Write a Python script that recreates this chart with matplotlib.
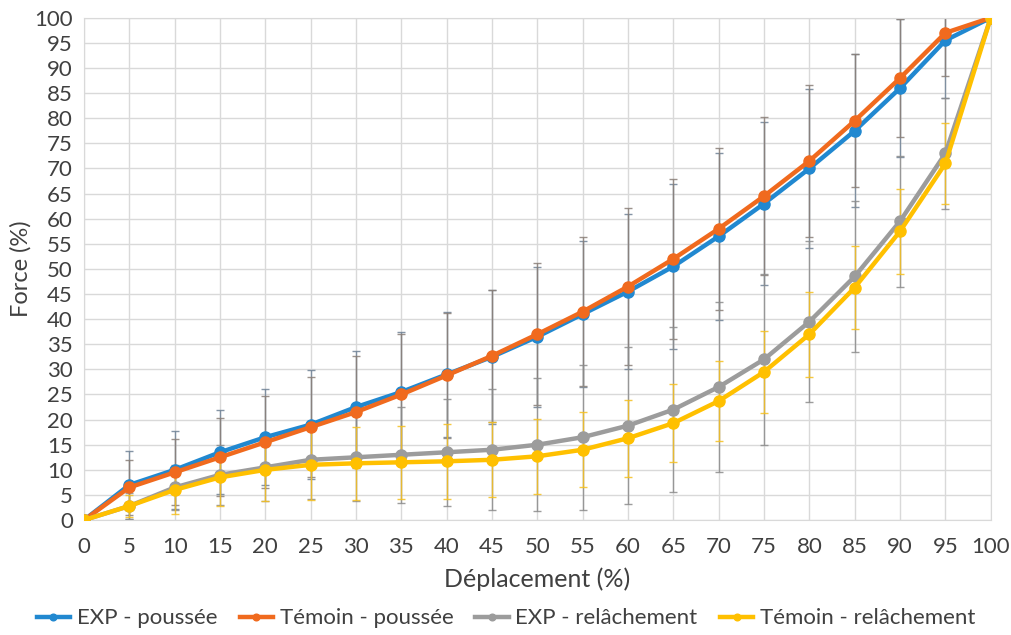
import matplotlib
matplotlib.use("Agg")
import matplotlib.pyplot as plt
import numpy as np

plt.rcParams['font.family'] = ['Lato', 'DejaVu Sans']

x = list(range(0, 101, 5))
exp_pousse = [0, 7, 10, 13.5, 16.5, 19, 22.5, 25.5, 29, 32.5, 36.5, 41, 45.5, 50.5, 56.5, 63, 70, 77.5, 86, 95.5, 100]
temoin_pousse = [0, 6.5, 9.5, 12.5, 15.5, 18.5, 21.5, 25, 28.8, 32.7, 37, 41.5, 46.5, 52, 58, 64.5, 71.5, 79.5, 88, 97, 100]
exp_relache = [0, 2.8, 6.5, 9, 10.5, 12, 12.5, 13, 13.5, 14, 15, 16.5, 18.8, 22, 26.5, 32, 39.5, 48.5, 59.5, 73, 100]
temoin_relache = [0, 2.8, 6, 8.5, 10, 11, 11.3, 11.5, 11.7, 12, 12.7, 14, 16.3, 19.3, 23.7, 29.5, 37, 46.3, 57.5, 71, 100]

err_exp_pousse = [0, 6.7, 7.8, 8.4, 9.5, 10.9, 11.1, 11.9, 12.5, 13.3, 13.9, 14.6, 15.5, 16.4, 16.6, 16.3, 15.9, 15.2, 13.8, 11.5, 0]
err_temoin_pousse = [0, 5.5, 6.6, 7.8, 9.2, 10, 11.1, 12, 12.5, 13.2, 14.1, 14.8, 15.6, 16, 16.1, 15.8, 15.1, 13.2, 11.8, 8.6, 0]
err_exp_relache = [0, 2.5, 4.5, 6, 6.7, 7.8, 8.7, 9.6, 10.7, 12, 13.2, 14.4, 15.6, 16.4, 17, 17, 16, 15, 13, 11, 0]
err_temoin_relache = [0, 2.1, 4.8, 5.7, 6.2, 7, 7.3, 7.3, 7.5, 7.5, 7.5, 7.5, 7.7, 7.8, 8, 8.2, 8.5, 8.3, 8.5, 8, 0]

labels = ["EXP - poussée", "Témoin - poussée", "EXP - relâchement", "Témoin - relâchement"]
colors = ["#2188D0", "#F06A1E", "#9C9C9C", "#FFC000"]
ecolors = ["#6f8296", "#8a7f78", "#8c8c8c", "#F5C020"]

fig = plt.figure(figsize=(10.12, 6.35), dpi=100)
ax = fig.add_axes([0.083, 0.181, 0.896, 0.791])

series = [exp_pousse, temoin_pousse, exp_relache, temoin_relache]
errs = [err_exp_pousse, err_temoin_pousse, err_exp_relache, err_temoin_relache]

for y, e, c, ec in zip(series, errs, colors, ecolors):
    ax.errorbar(x, y, yerr=e, fmt='none', ecolor=ec, elinewidth=1.0, capsize=3, capthick=1.0, alpha=0.85, zorder=2)
handles = []
for y, c, lab in zip(series, colors, labels):
    h, = ax.plot(x, y, color=c, lw=3.2, marker='o', ms=8, label=lab, zorder=3)
    handles.append(h)

ax.set_xlim(0, 100)
ax.set_ylim(0, 100)
ax.set_xticks(range(0, 101, 5))
ax.set_yticks(range(0, 101, 5))
ax.grid(True, color='#d9d9d9', lw=1.0)
ax.set_axisbelow(True)
for s in ax.spines.values():
    s.set_color('#d9d9d9')
ax.tick_params(length=0, labelsize=16, colors='#404040')
ax.tick_params(axis='x', pad=12)
ax.tick_params(axis='y', pad=8)
ax.set_xlabel("Déplacement (%)", fontsize=18, color='#404040', labelpad=8)
ax.set_ylabel("Force (%)", fontsize=17, color='#404040', labelpad=2)
for lbl in ax.get_xticklabels() + ax.get_yticklabels():
    lbl.set_clip_on(False)

leg = fig.legend(handles=handles, labels=labels, loc='center', bbox_to_anchor=(0.5, 0.026),
                 ncol=4, frameon=False, fontsize=16, handlelength=1.5, handletextpad=0.3,
                 columnspacing=1.0, markerscale=0.6)
for t in leg.get_texts():
    t.set_color('#404040')

fig.savefig("out.png", dpi=100)
